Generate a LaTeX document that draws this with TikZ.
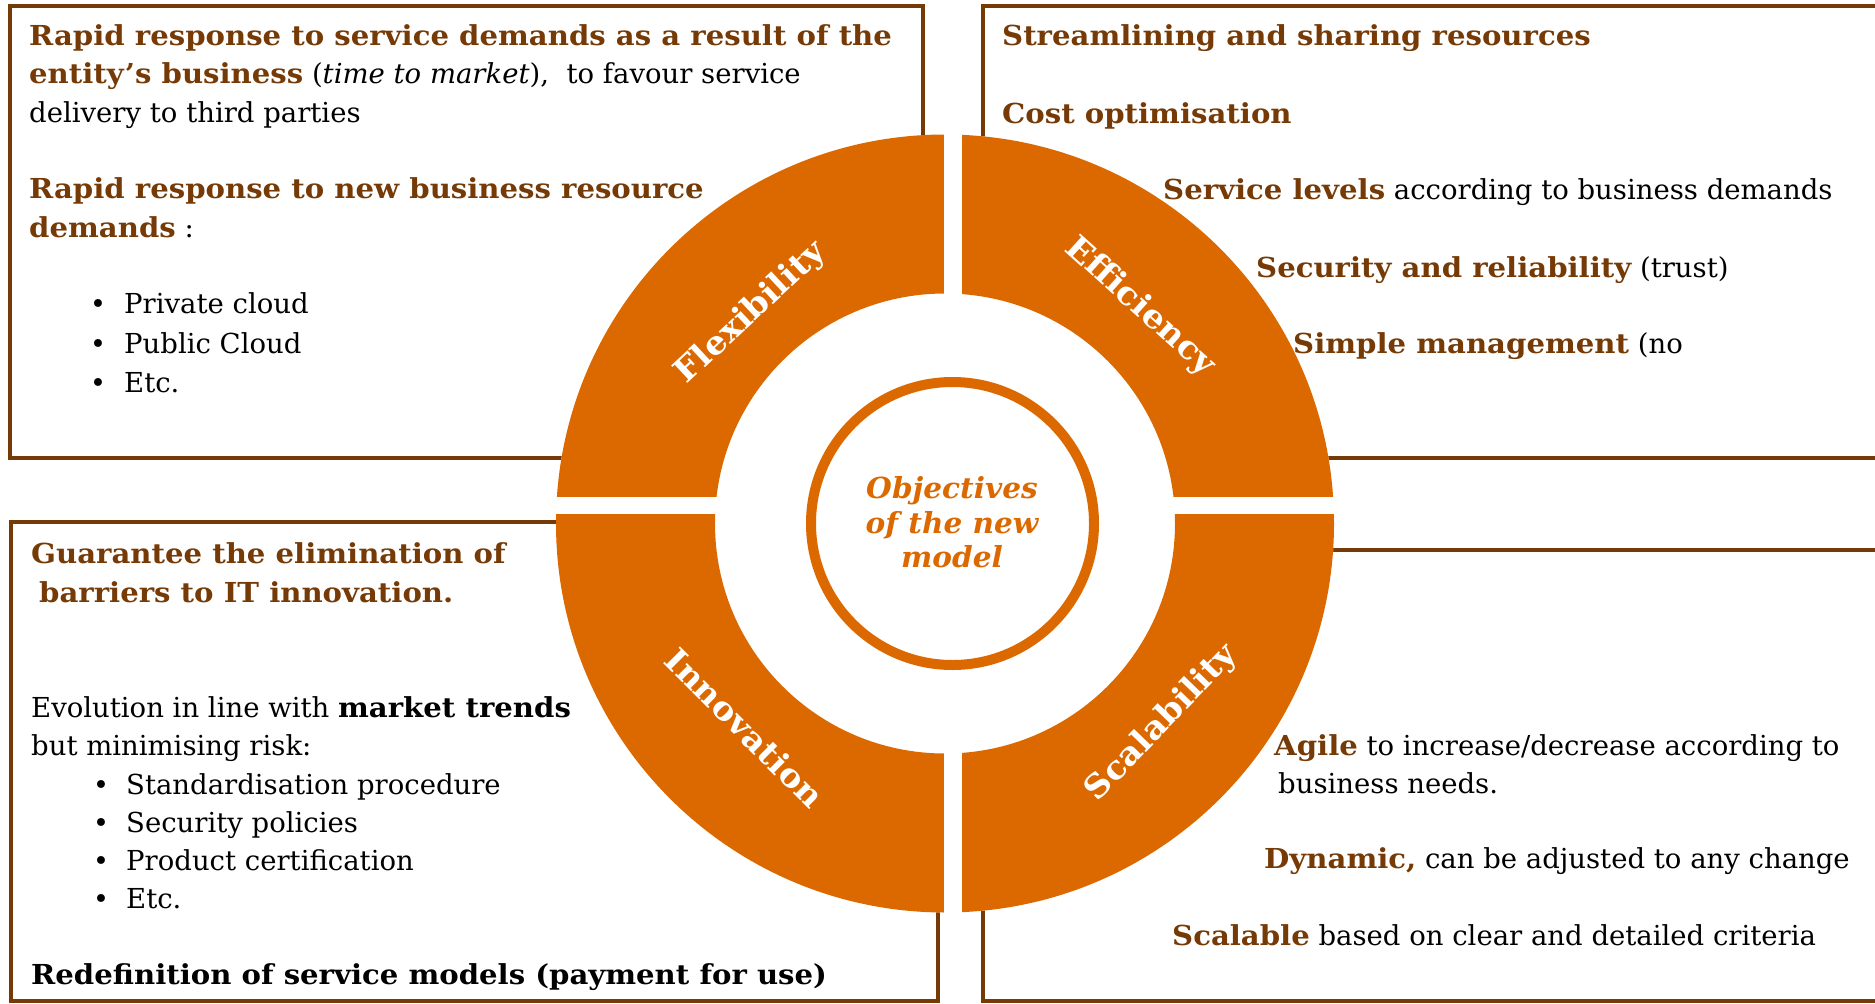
\documentclass[tikz,border=0pt]{standalone}
\usepackage{fontspec}
\setmainfont{DejaVu Serif}[BoldFeatures={FakeStretch=1.06},BoldItalicFeatures={FakeStretch=1.02}]
\definecolor{orng}{RGB}{220,105,0}
\definecolor{brn}{RGB}{118,58,6}
\newcommand\bb[1]{\textbf{\color{brn}#1}}
\begin{document}
\begin{tikzpicture}[x=1pt,y=-1pt,
  txt/.style={anchor=base west,inner sep=0pt,font=\fontsize{27.5}{38}\selectfont},
  bbtxt/.style={txt,text=brn,font=\fontsize{27.5}{38}\selectfont\bfseries},
  bul/.style={anchor=base west,inner sep=0pt,font=\fontsize{27}{38}\selectfont},
  box/.style={draw=brn,line width=4pt},
  lbl/.style={text=white,font=\fontsize{32.5}{38}\selectfont\bfseries,inner sep=0pt},
  ctr/.style={anchor=base,inner sep=0pt,text=orng,font=\fontsize{29}{34}\selectfont\bfseries\itshape}]
\useasboundingbox (0,0) rectangle (1875,1004);
\fill[white] (0,0) rectangle (1875,1004);
% boxes
\draw[box] (10,6) rectangle (923,458);
\draw[box] (983,6) rectangle (1900,458);
\draw[box] (11,522) rectangle (938,1001);
\draw[box] (983,550) rectangle (1900,1001);
% ring
\fill[white] (945,523.5) circle[radius=389pt];
\fill[orng,even odd rule] (945,523.5) circle[radius=389pt] (945,523.5) circle[radius=230pt];
\fill[white] (540,497) rectangle (1350,514);
\fill[white] (944,120) rectangle (962,930);
\draw[orng,line width=10pt,fill=white] (952.5,523.5) circle[radius=141.5pt];
% centre text
\node[ctr] (c1) at (952,498) {Objectives};
\node[ctr] (c2) at (952,533) {of the new};
\node[ctr] (c3) at (952,567) {model};
% ring labels
\node[lbl,rotate=43] (flex) at (751,313) {Flexibility};
\node[lbl,rotate=-42] (eff) at (1140,307) {Efficiency};
\node[lbl,rotate=-45] (inn) at (745,728) {Innovation};
\node[lbl,rotate=46] (sca) at (1162,723) {Scalability};
% top left
\node[bbtxt] (tl1) at (29,45) {Rapid response to service demands as a result of the};
\node[txt] (tl2) at (29,83) {\bb{entity's business} (\textit{time to market}),\ \ to favour service};
\node[txt] (tl3) at (29,122) {delivery to third parties};
\node[bbtxt] (tl4) at (29,198) {Rapid response to new business resource};
\node[txt] (tl5) at (29,237) {\bb{demands} :};
\node[bul] (tlb1) at (90,313) {•};
\node[txt] (tlt1) at (124,313) {Private cloud};
\node[bul] (tlb2) at (90,353) {•};
\node[txt] (tlt2) at (124,353) {Public Cloud};
\node[bul] (tlb3) at (90,392) {•};
\node[txt] (tlt3) at (124,392) {Etc.};
% top right
\node[bbtxt] (tr1) at (1002,45) {Streamlining and sharing resources};
\node[bbtxt] (tr2) at (1002,123) {Cost optimisation};
\node[txt] (tr3) at (1163,199) {\bb{Service levels} according to business demands};
\node[txt] (tr4) at (1256,277) {\bb{Security and reliability} (trust)};
\node[txt] (tr5) at (1293,353) {\bb{Simple management} (no};
% bottom left
\node[bbtxt] (bl1) at (31,563) {Guarantee the elimination of};
\node[bbtxt] (bl2) at (39,602) {barriers to IT innovation.};
\node[txt] (bl3) at (31,717) {Evolution in line with \textbf{market trends}};
\node[txt] (bl4) at (31,755) {but minimising risk:};
\node[bul] (blb1) at (93,794) {•};
\node[txt] (blt1) at (126,794) {Standardisation procedure};
\node[bul] (blb2) at (93,832) {•};
\node[txt] (blt2) at (126,832) {Security policies};
\node[bul] (blb3) at (93,870) {•};
\node[txt] (blt3) at (126,870) {Product certification};
\node[bul] (blb4) at (93,908) {•};
\node[txt] (blt4) at (126,908) {Etc.};
\node[txt,font=\fontsize{27.5}{38}\selectfont\bfseries] (bl5) at (31,984) {Redefinition of service models (payment for use)};
% bottom right
\node[txt] (br1) at (1274,755) {\bb{Agile} to increase/decrease according to};
\node[txt] (br2) at (1278,793) {business needs.};
\node[txt] (br3) at (1264,868) {\bb{Dynamic,} can be adjusted to any change};
\node[txt] (br4) at (1172,945) {\bb{Scalable} based on clear and detailed criteria};
\end{tikzpicture}
\end{document}
